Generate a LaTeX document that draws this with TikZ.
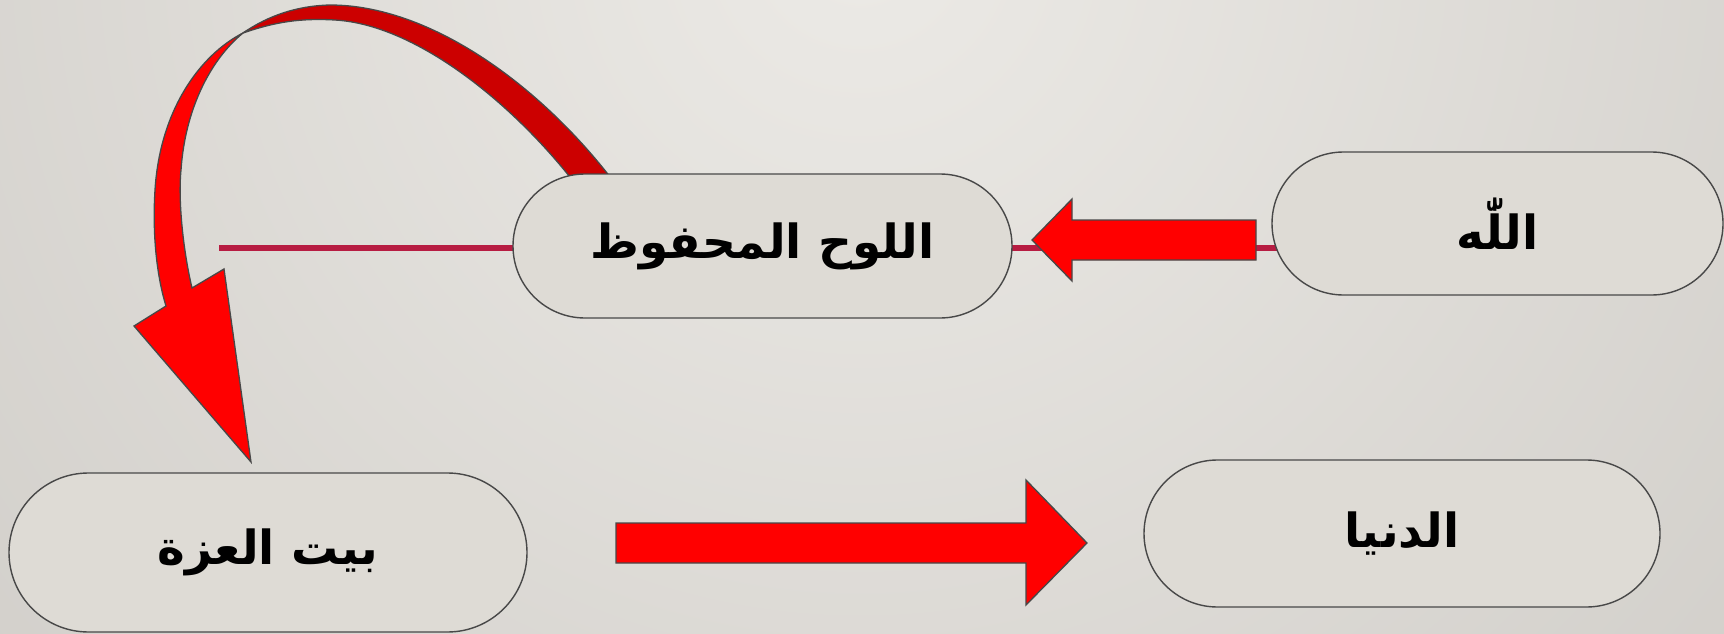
\documentclass[tikz,border=0pt]{standalone}
\usepackage{fontspec}
\usetikzlibrary{shapes.misc}
\TeXXeTstate=1
\newfontfamily\arabicfont[Script=Arabic]{DejaVu Sans}
\definecolor{pillfill}{RGB}{222,219,213}
\definecolor{edgegray}{RGB}{72,72,72}
\definecolor{brightred}{RGB}{255,0,0}
\definecolor{darkred}{RGB}{204,0,0}
\definecolor{crimsonline}{RGB}{183,28,66}
\definecolor{bginner}{RGB}{236,234,230}
\definecolor{bgouter}{RGB}{206,203,198}
\begin{document}
\begin{tikzpicture}[x=1pt,y=-1pt,
  pill/.style={shape=rounded rectangle, draw=edgegray, line width=1.4pt, fill=pillfill,
    inner sep=0pt, text=black, font=\arabicfont\bfseries\fontsize{47}{54}\selectfont},
  blockarrow/.style={draw=edgegray, line width=1.3pt, fill=brightred, line join=miter},
  ribbon/.style={draw=edgegray, line width=1.3pt}
]
\useasboundingbox (0,0) rectangle (1724,634);
\begin{scope}
  \clip (0,0) rectangle (1724,634);
  \shade[inner color=bginner, outer color=bgouter] (860,-60) circle (1350);
\end{scope}

% horizontal line
\coordinate (ls) at (219,248);
\coordinate (le) at (1280,248);
\draw[crimsonline, line width=6pt] (ls) -- (le);

% curved ribbon arrow (back face)
\coordinate (twist) at (243,33);
\draw[ribbon, fill=darkred]
  (614,182) .. controls (540,85) and (430,5) .. (330,5)
  .. controls (290,6) and (262,20) .. (twist)
  .. controls (275,22) and (300,18) .. (335,20)
  .. controls (420,25) and (520,110) .. (580,190)
  -- cycle;
% curved ribbon arrow (front face with head)
\coordinate (ctip) at (251,462);
\draw[ribbon, fill=brightred, line join=miter]
  (twist) .. controls (200,55) and (160,110) .. (155,190)
  .. controls (152,240) and (158,280) .. (166,306)
  -- (134,326) -- (ctip) -- (224,269) -- (192,288)
  .. controls (183,250) and (178,200) .. (181,170)
  .. controls (185,110) and (210,60) .. (twist)
  -- cycle;

% nodes
\node[pill, minimum width=451pt, minimum height=143pt] (allah) at (1497.5,223.5) {\beginR اللّٰه\endR};
\node[pill, minimum width=499pt, minimum height=144pt] (lawh) at (762.5,246) {\beginR اللوح المحفوظ\endR};
\node[pill, minimum width=518pt, minimum height=159pt] (bayt) at (268,552.5) {\beginR بيت العزة\endR};
\node[pill, minimum width=516pt, minimum height=147pt] (dunya) at (1402,533.5) {\beginR الدنيا\endR};

% block arrow: allah -> lawh
\coordinate (a1s) at (1256,240);
\coordinate (a1t) at (1032,240);
\draw[blockarrow] (a1s |- 0,220) -- (1072,220) -- (1072,199) -- (a1t) -- (1072,281) -- (1072,260) -- (a1s |- 0,260) -- cycle;

% block arrow: bayt -> dunya
\coordinate (a2s) at (616,543);
\coordinate (a2t) at (1087,543);
\draw[blockarrow] (a2s |- 0,523) -- (1026,523) -- (1026,480) -- (a2t) -- (1026,605) -- (1026,563) -- (a2s |- 0,563) -- cycle;
\end{tikzpicture}
\end{document}
